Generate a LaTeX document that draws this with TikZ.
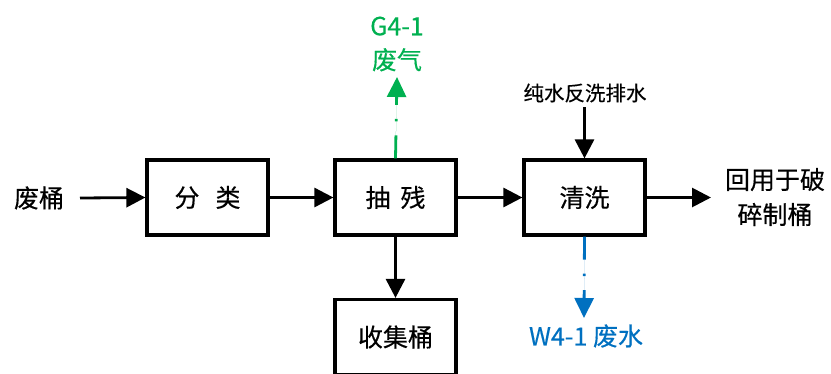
\documentclass[tikz,border=0pt]{standalone}
\usepackage{fontspec}
\setmainfont{Noto Sans CJK SC}[FakeBold=0.35]
\usetikzlibrary{arrows.meta}
\definecolor{gasgreen}{HTML}{00B050}
\definecolor{waterblue}{HTML}{0070C0}
\begin{document}
\begin{tikzpicture}[x=1pt,y=-1pt,
  procbox/.style={draw=black,line width=3.2pt,minimum width=121pt,minimum height=75pt,inner sep=0pt,font=\fontsize{25}{28}\selectfont},
  lbl/.style={font=\fontsize{25}{35}\selectfont,inner sep=0pt,align=center},
  flow/.style={line width=2.8pt,-{Triangle[length=19pt,width=19pt]}},
  dashflow/.style={line width=2.8pt,dash pattern=on 23pt off 14pt on 2.5pt off 14pt,-{Triangle[length=20pt,width=19pt]}}]
\useasboundingbox (0,0) rectangle (831,373);
\node[procbox] (fl) at (207.5,197.5) {分\hspace{16pt}类};
\node[procbox] (cc) at (395.5,197.5) {抽\hspace{10pt}残};
\node[procbox] (qx) at (584.5,197.5) {清洗};
\node[procbox] (sj) at (395.5,337) {收集桶};
\node[lbl] (ft) at (39,198) {废桶};
\coordinate (ftout) at (80,198);
\node[lbl] (hy) at (775,197) {回用于破\\碎制桶};
\node[lbl,font=\fontsize{20.5}{24}\selectfont] (cs) at (585,93) {纯水反洗排水};
\node[lbl,text=gasgreen,font=\fontsize{25}{34}\selectfont] (g) at (397,44) {G4-1\\废气};
\node[lbl,text=waterblue] (w) at (586,336) {W4-1 废水};
\coordinate (gtip) at (397,77);
\coordinate (wtip) at (584,318);
\coordinate (cstop) at (584.5,107);
\coordinate (hyin) at (711,197.5);
\draw[flow] (ftout) -- (fl.west);
\draw[flow] (fl.east) -- (cc.west);
\draw[flow] (cc.east) -- (qx.west);
\draw[flow] (qx.east) -- (hyin);
\draw[flow] (cc.south) -- (sj.north);
\draw[flow] (cstop) -- (qx.north);
\draw[dashflow,draw=gasgreen,fill=gasgreen] (cc.north) -- (gtip);
\draw[dashflow,draw=waterblue,fill=waterblue] (qx.south) -- (wtip);
\end{tikzpicture}
\end{document}
